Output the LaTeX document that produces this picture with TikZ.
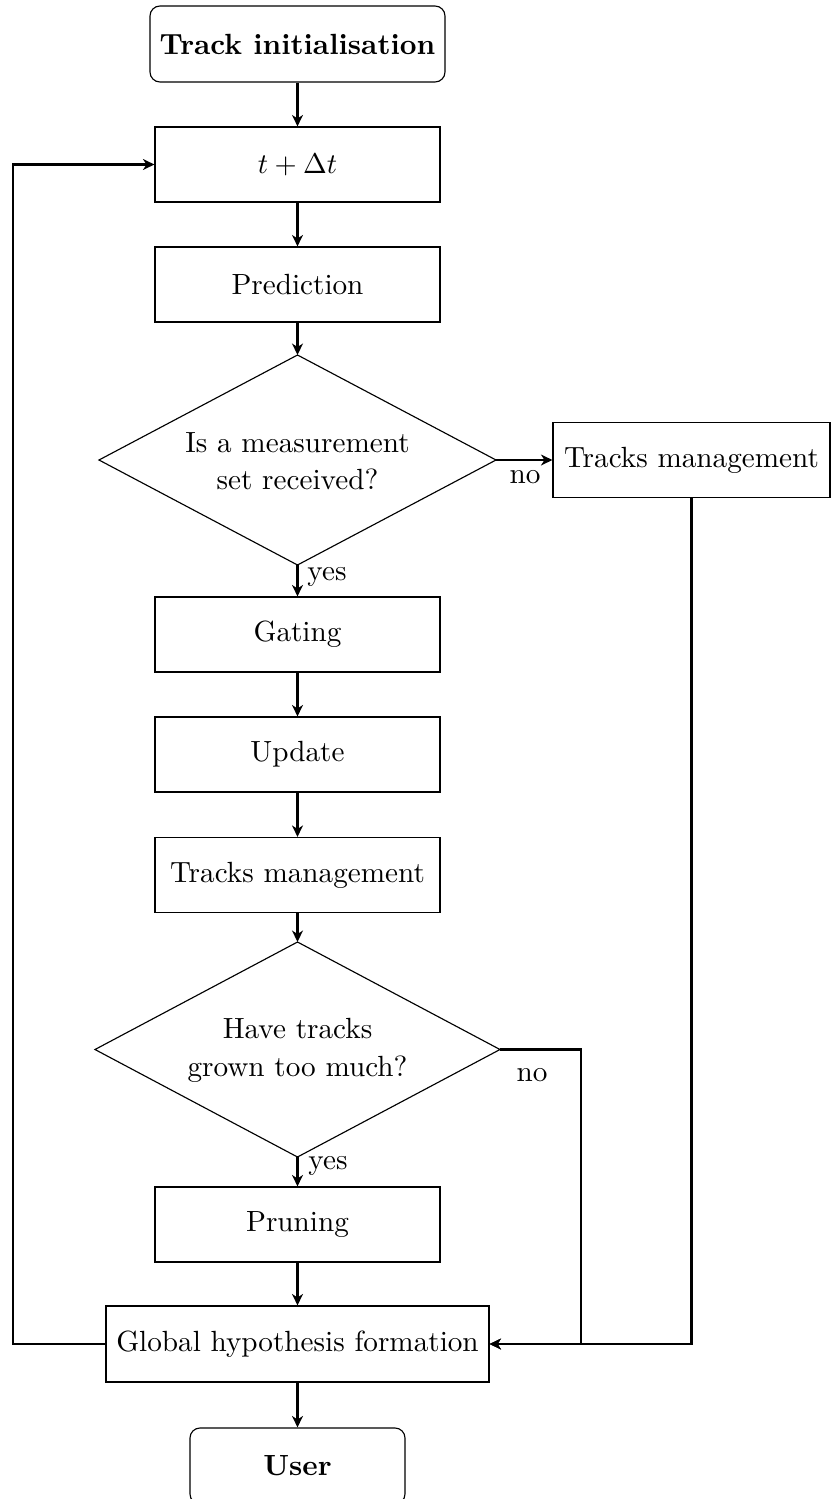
\documentclass[tikz,border=0pt]{standalone}
\usetikzlibrary{arrows.meta}
\def\pxu{0.351pt}
\tikzset{
  box/.style={draw, line width=0.4pt, minimum width=285*\pxu, minimum height=75*\pxu, inner sep=0pt, align=center},
  rbox/.style={draw, line width=0.4pt, rounded corners=3.5pt, minimum height=76*\pxu, inner sep=0pt, align=center},
  dtext/.style={inner sep=0pt, align=center, font=\fontsize{10.25pt}{13.2pt}\selectfont},
  dshape/.style={draw, line width=0.4pt},
  conn/.style={line width=0.75pt, -{Stealth[length=4pt, width=3.8pt, inset=1.2pt]}},
  lbl/.style={inner sep=0pt}
}
\begin{document}
\begin{tikzpicture}[x=\pxu,y=-\pxu, font=\fontsize{10.25pt}{12.6pt}\selectfont]
\useasboundingbox (0,0) rectangle (830,1499);
% nodes
\node[rbox, minimum width=295*\pxu] (init) at (297.5,44) {\textbf{Track initialisation}};
\node[box] (dt) at (297.5,164.5) {$t+\Delta t$};
\node[box] (pred) at (297.5,284.5) {Prediction};
\node[dtext] (q1) at (297.5,461) {Is a measurement\\set received?};
\coordinate (q1t) at (297.5,355);
\coordinate (q1b) at (297.5,565);
\coordinate (q1l) at (99,460);
\coordinate (q1r) at (496,460);
\draw[dshape] (q1t) -- (q1r) -- (q1b) -- (q1l) -- cycle;
\node[box, minimum width=277*\pxu] (tm1) at (691.5,460) {Tracks management};
\node[box] (gate) at (297.5,634.5) {Gating};
\node[box] (upd) at (297.5,754.5) {Update};
\node[box] (tm2) at (297.5,875) {Tracks management};
\node[dtext] (q2) at (297.5,1050.5) {Have tracks\\grown too much?};
\coordinate (q2t) at (297.5,942);
\coordinate (q2b) at (297.5,1157);
\coordinate (q2l) at (95,1049.5);
\coordinate (q2r) at (500,1049.5);
\draw[dshape] (q2t) -- (q2r) -- (q2b) -- (q2l) -- cycle;
\node[box] (prune) at (297.5,1224.5) {Pruning};
\node[box, minimum width=383*\pxu, minimum height=76*\pxu] (ghf) at (297.5,1344) {Global hypothesis formation};
\node[rbox, minimum width=215*\pxu] (user) at (297.5,1466) {\textbf{User}};
% helper coordinates
\coordinate (j2) at (581,1049.5);
\coordinate (lp) at (13,164.5);
% connectors
\draw[conn] (init) -- (dt);
\draw[conn] (dt) -- (pred);
\draw[conn] (pred) -- (q1t);
\draw[conn] (q1b) -- (gate);
\draw[conn] (gate) -- (upd);
\draw[conn] (upd) -- (tm2);
\draw[conn] (tm2) -- (q2t);
\draw[conn] (q2b) -- (prune);
\draw[conn] (prune) -- (ghf);
\draw[conn] (ghf) -- (user);
\draw[conn] (q1r) -- (tm1.west);
\draw[conn] (q2r) -- (j2) |- (ghf.east);
\draw[conn] (tm1.south) |- (ghf.east);
\draw[conn] (ghf.west) -| (lp) -- (dt.west);
% labels
\node[lbl] (no1) at (525,477) {no};
\node[lbl] (yes1) at (327,577) {yes};
\node[lbl] (no2) at (532,1075) {no};
\node[lbl] (yes2) at (328,1166) {yes};
\end{tikzpicture}
\end{document}
